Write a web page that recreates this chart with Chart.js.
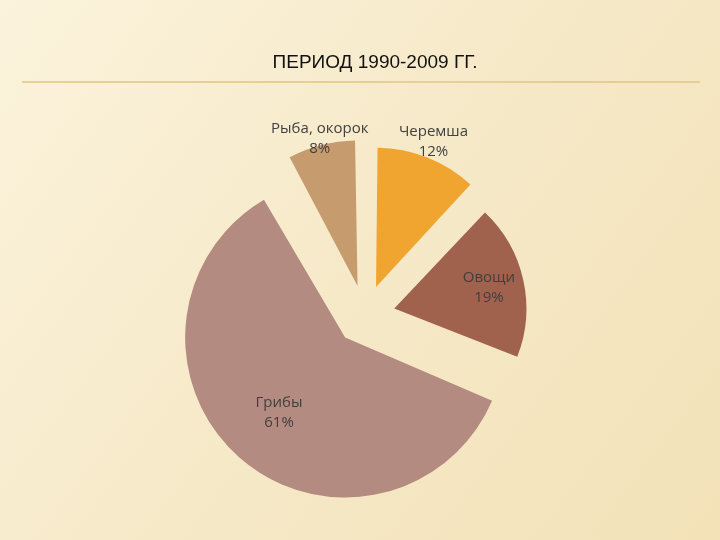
<!DOCTYPE html>
<html>
<head>
<meta charset="utf-8">
<script src="https://cdn.jsdelivr.net/npm/chart.js@4/dist/chart.umd.min.js"></script>
<style>
  html, body { margin: 0; padding: 0; background: #f7eed6; }
  #wrap { width: 720px; height: 540px; position: relative; }
</style>
</head>
<body>
<div id="wrap"><canvas id="pie" width="720" height="540"></canvas></div>
<script>
// Data
const categories = ["Черемша", "Овощи", "Грибы", "Рыба, окорок"];
const shares = [12, 19, 61, 8];
const titleText = "ПЕРИОД 1990-2009 ГГ.";

const sliceColors = ["#f0a530", "#a0614d", "#b38b80", "#c69c6e"];
// how far from the pie centre each label sits (px)
const labelDist = [186, 127, 130, 182];

// slide background, title and rule
const slideBg = {
  id: "slideBg",
  beforeDraw(chart) {
    const c = chart.ctx;
    c.save();
    const g = c.createLinearGradient(0, 0, 720, 540);
    g.addColorStop(0, "#fbf3dc");
    g.addColorStop(0.5, "#f6e9c8");
    g.addColorStop(1, "#f3e2b8");
    c.fillStyle = g;
    c.fillRect(0, 0, 720, 540);
    c.strokeStyle = "#e2c67a";
    c.lineWidth = 1.5;
    c.beginPath();
    c.moveTo(22, 82);
    c.lineTo(700, 82);
    c.stroke();
    c.fillStyle = "#111";
    c.font = "19px 'Liberation Sans', Arial, sans-serif";
    c.textAlign = "center";
    c.textBaseline = "middle";
    c.fillText(titleText, 375, 63);
    c.restore();
  }
};

// slice labels
const sliceLabels = {
  id: "sliceLabels",
  afterDatasetsDraw(chart) {
    const c = chart.ctx;
    const meta = chart.getDatasetMeta(0);
    c.save();
    c.fillStyle = "#404040";
    c.font = "15px 'Open Sans', sans-serif";
    c.textAlign = "center";
    c.textBaseline = "middle";
    meta.data.forEach((arc, i) => {
      const mid = (arc.startAngle + arc.endAngle) / 2;
      const x = (chart.chartArea.left + chart.chartArea.right) / 2 + Math.cos(mid) * labelDist[i];
      const y = (chart.chartArea.top + chart.chartArea.bottom) / 2 + Math.sin(mid) * labelDist[i];
      c.fillText(categories[i], x, y - 10);
      c.fillText(shares[i] + "%", x, y + 10);
    });
    c.restore();
  }
};

new Chart(document.getElementById("pie"), {
  type: "pie",
  data: {
    labels: categories,
    datasets: [{
      data: shares,
      backgroundColor: sliceColors,
      borderWidth: 0,
      offset: 120
    }]
  },
  options: {
    responsive: false,
    animation: false,
    radius: 130,
    layout: { padding: { left: 65, right: 55, top: 90, bottom: 0 } },
    plugins: {
      legend: { display: false },
      tooltip: { enabled: false },
      title: { display: false }
    }
  },
  plugins: [slideBg, sliceLabels]
});
</script>
</body>
</html>
